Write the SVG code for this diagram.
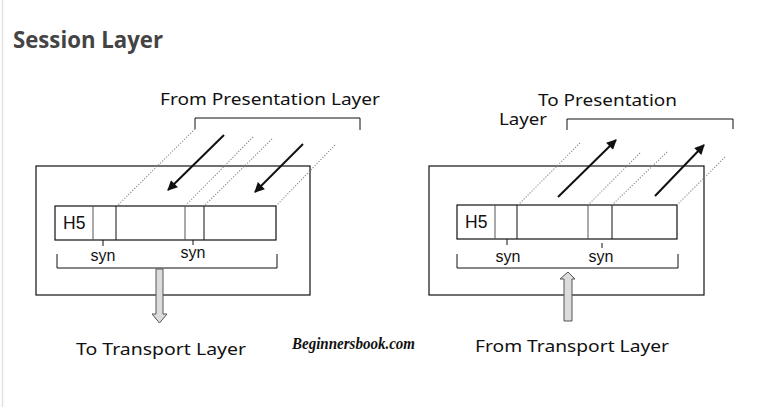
<svg xmlns="http://www.w3.org/2000/svg" width="774" height="407" viewBox="0 0 774 407">
<defs>
<style>
.bg{fill:#ffffff}
.title{font-family:"Open Sans","Noto Sans",sans-serif;font-weight:bold;font-size:23px;fill:#444444}
.lbl{font-family:"Noto Sans","Liberation Sans",sans-serif;font-size:17px;fill:#111111}
.cell{font-family:"Liberation Sans",Arial,sans-serif;font-size:17.5px;fill:#111111}
.syn{font-family:"Liberation Sans",Arial,sans-serif;font-size:16px;fill:#111111}
.box{fill:none;stroke:#111111;stroke-width:1.2}
.ln{fill:none;stroke:#111111;stroke-width:1}
.gl{fill:none;stroke:#555555;stroke-width:1}
.dot{fill:none;stroke:#888888;stroke-width:1.1;stroke-dasharray:1.2 1.6}
.arr{fill:none;stroke:#111111;stroke-width:2;marker-end:url(#ah)}
.hollow{fill:#dcdcdc;stroke:#555555;stroke-width:1}
.wm{font-family:"Liberation Serif",serif;font-weight:bold;font-style:italic;font-size:17px;fill:#111111}
</style>
<marker id="ah" viewBox="0 0 10 10" refX="9" refY="5" markerWidth="5.5" markerHeight="5" orient="auto" markerUnits="strokeWidth">
<path d="M0,0 L10,5 L0,10 z" fill="#111111"/>
</marker>
</defs>
<rect class="bg" x="0" y="0" width="774" height="407"/>
<line x1="2.5" y1="0" x2="2.5" y2="407" stroke="#e2e2e2" stroke-width="1.5"/>
<text class="title" x="13" y="48" textLength="150" lengthAdjust="spacingAndGlyphs">Session Layer</text>

<g id="left-panel">
<rect class="box" x="36" y="166" width="274" height="129"/>
<g id="left-strip">
<rect class="box" x="55" y="206" width="221" height="34"/>
<line class="gl" x1="93" y1="206" x2="93" y2="240"/>
<line class="ln" x1="116" y1="206" x2="116" y2="240"/>
<line class="gl" x1="185" y1="206" x2="185" y2="240"/>
<line class="ln" x1="204" y1="206" x2="204" y2="240"/>
<text class="cell" x="63" y="229">H5</text>
</g>
<line class="ln" x1="103" y1="240" x2="103" y2="246"/>
<line class="ln" x1="193" y1="240" x2="193" y2="245"/>
<text class="syn" x="103" y="261" text-anchor="middle">syn</text>
<text class="syn" x="193" y="258" text-anchor="middle">syn</text>
<path class="ln" d="M57,254 V268 H277 V254"/>
<path class="ln" d="M195,129 V118 H360 V130"/>
<text class="lbl" x="160" y="105" textLength="220" lengthAdjust="spacingAndGlyphs">From Presentation Layer</text>
</g>

<g id="right-panel">
<rect class="box" x="429" y="166" width="275" height="129"/>
<g id="right-strip">
<rect class="box" x="457" y="205" width="220" height="34"/>
<line class="gl" x1="495" y1="205" x2="495" y2="239"/>
<line class="ln" x1="517" y1="205" x2="517" y2="239"/>
<line class="gl" x1="588" y1="205" x2="588" y2="239"/>
<line class="ln" x1="612" y1="205" x2="612" y2="239"/>
<text class="cell" x="465" y="228">H5</text>
</g>
<line class="ln" x1="507" y1="239" x2="507" y2="245"/>
<line class="ln" x1="602" y1="243" x2="602" y2="248"/>
<text class="syn" x="508" y="262" text-anchor="middle">syn</text>
<text class="syn" x="601" y="262" text-anchor="middle">syn</text>
<path class="ln" d="M457,254 V268 H678 V254"/>
<path class="ln" d="M567,130 V119 H733 V129"/>
<text class="lbl" x="538" y="106" textLength="139" lengthAdjust="spacingAndGlyphs">To Presentation</text>
<text class="lbl" x="499" y="125" textLength="48" lengthAdjust="spacingAndGlyphs">Layer</text>
</g>

<g id="connectors">
<line class="dot" x1="195" y1="129" x2="117" y2="206"/>
<line class="dot" x1="253" y1="137" x2="185" y2="206"/>
<line class="dot" x1="272" y1="139" x2="204" y2="206"/>
<line class="dot" x1="335" y1="145" x2="276" y2="206"/>
<line class="arr" x1="224" y1="135" x2="168" y2="190"/>
<line class="arr" x1="303" y1="144" x2="255" y2="192"/>

<line class="dot" x1="580" y1="143" x2="518" y2="205"/>
<line class="dot" x1="640" y1="153" x2="588" y2="205"/>
<line class="dot" x1="667" y1="152" x2="612" y2="205"/>
<line class="dot" x1="725" y1="157" x2="677" y2="205"/>
<line class="arr" x1="558" y1="197" x2="616" y2="140"/>
<line class="arr" x1="655" y1="196" x2="704" y2="145"/>

<path class="hollow" d="M156,269 H163 V314 H167 L159.5,323 L152,314 H156 Z"/>
<path class="hollow" d="M564,321 H572 V279 H575 L568,272 L560,279 H564 Z"/>
</g>

<text class="lbl" x="76" y="355" textLength="170" lengthAdjust="spacingAndGlyphs">To Transport Layer</text>
<text class="lbl" x="475" y="352" textLength="194" lengthAdjust="spacingAndGlyphs">From Transport Layer</text>
<text class="wm" x="292" y="349" textLength="123" lengthAdjust="spacingAndGlyphs">Beginnersbook.com</text>
</svg>
